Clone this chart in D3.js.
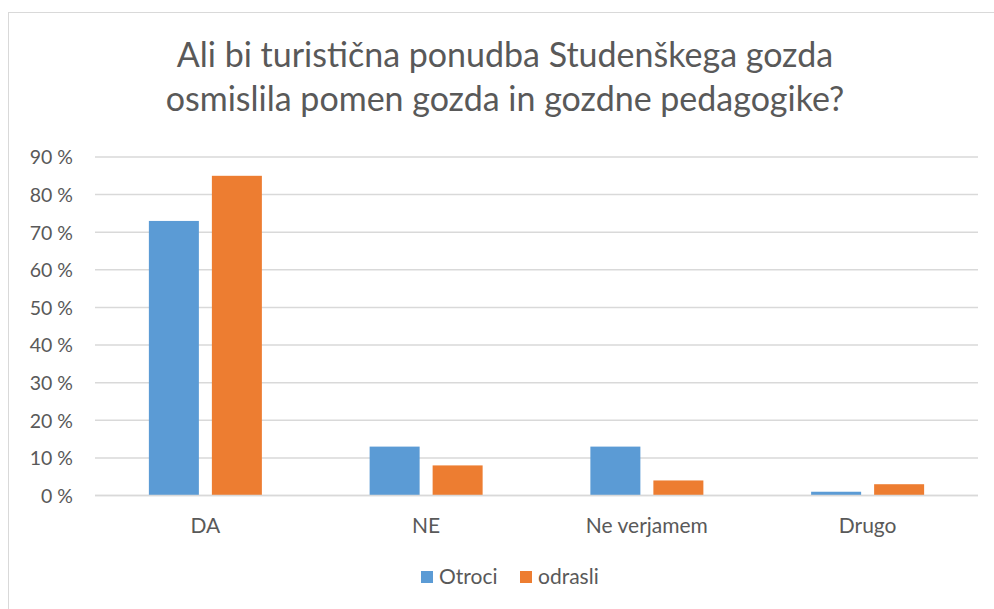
<!DOCTYPE html>
<html><head><meta charset="utf-8">
<script src="https://cdn.jsdelivr.net/npm/d3@7"></script>
<style>body{margin:0;background:#fff}svg{display:block;font-family:Lato,"Open Sans",sans-serif}</style>
</head><body><svg id="c" width="994" height="609"></svg>
<script>
const categories = ["DA", "NE", "Ne verjamem", "Drugo"];
const seriesNames = ["Otroci", "odrasli"];
const otroci = [73, 13, 13, 1];
const odrasli = [85, 8, 4, 3];
const yTicks = [0, 10, 20, 30, 40, 50, 60, 70, 80, 90];
const titleLines = ["Ali bi turistična ponudba Studenškega gozda", "osmislila pomen gozda in gozdne pedagogike?"];
const colors = ["#5B9BD5", "#ED7D31"];

(function () {
const svg = d3.select("#c");
const textColor = "#595959";
const fs = 19.5, fsX = 21;
svg.append("rect").attr("x", 8.5).attr("y", 12.5).attr("width", 1000).attr("height", 700)
  .attr("fill", "#fff").attr("stroke", "#d9d9d9");

const pLeft = 95, pRight = 978, pTop = 157, pBottom = 495.5;
const x0 = d3.scaleBand().domain(categories).range([pLeft, pRight]).paddingInner(0).paddingOuter(0);
const bw = x0.bandwidth();
const groupW = 113;
const x1 = d3.scaleBand().domain(seriesNames).range([(bw - groupW) / 2, (bw + groupW) / 2]).paddingInner(13 / 63).paddingOuter(0);
const y = d3.scaleLinear().domain([0, 90]).range([pBottom, pTop]);

svg.append("g").selectAll("line").data(yTicks).join("line")
  .attr("x1", pLeft).attr("x2", pRight)
  .attr("y1", d => y(d)).attr("y2", d => y(d))
  .attr("stroke", "#d9d9d9").attr("stroke-width", 1.5);

const yAxis = d3.axisLeft(y).tickValues(yTicks).tickSize(0).tickPadding(0).tickFormat(d => d + " %");
const ya = svg.append("g").attr("transform", `translate(73,0)`).call(yAxis);
ya.select(".domain").remove();
ya.selectAll("text").attr("fill", textColor).attr("font-size", fs).attr("font-family", "Lato, sans-serif").attr("dy", "0.35em");

const data = categories.map((c, i) => ({ cat: c, vals: [otroci[i], odrasli[i]] }));
const g = svg.append("g").selectAll("g").data(data).join("g")
  .attr("transform", d => `translate(${x0(d.cat)},0)`);
g.selectAll("rect").data(d => d.vals.map((v, j) => ({ s: seriesNames[j], v, j }))).join("rect")
  .attr("x", d => x1(d.s)).attr("width", x1.bandwidth())
  .attr("y", d => y(d.v)).attr("height", d => y(0) - y(d.v))
  .attr("fill", d => colors[d.j]);

svg.append("line").attr("x1", pLeft).attr("x2", pRight).attr("y1", y(0)).attr("y2", y(0))
  .attr("stroke", "#d9d9d9").attr("stroke-width", 1.5);

const xAxis = d3.axisBottom(x0).tickSize(0).tickPadding(0);
const xa = svg.append("g").attr("transform", `translate(0,${y(0)})`).call(xAxis);
xa.select(".domain").remove();
xa.selectAll("text").attr("fill", textColor).attr("font-size", fsX).attr("font-family", "Lato, sans-serif").attr("dy", "0").attr("y", 37);

svg.append("g").selectAll("text").data(titleLines).join("text")
  .attr("x", 505).attr("y", (d, i) => 67 + i * 44)
  .attr("text-anchor", "middle").attr("font-size", 34).attr("fill", textColor).text(d => d);

const lg = svg.append("g");
const legendX = [421, 520];
seriesNames.forEach((s, i) => {
  lg.append("rect").attr("x", legendX[i]).attr("y", 571).attr("width", 12).attr("height", 12).attr("fill", colors[i]);
  lg.append("text").attr("x", legendX[i] + 18).attr("y", 584).attr("font-size", fsX).attr("fill", textColor).text(s);
});
})();
</script></body></html>
